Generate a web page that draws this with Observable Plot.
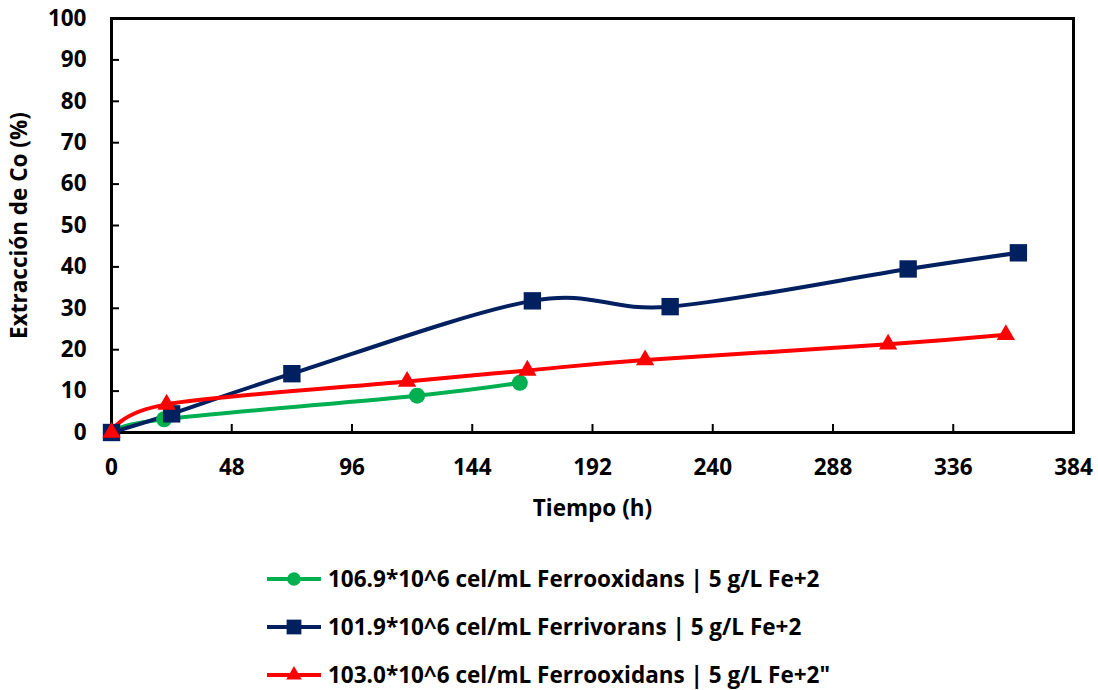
<!DOCTYPE html>
<html>
<head>
<meta charset="utf-8">
<script src="https://cdn.jsdelivr.net/npm/d3@7"></script>
<script src="https://cdn.jsdelivr.net/npm/@observablehq/plot@0.6"></script>
<style>
  html, body { margin: 0; padding: 0; background: #fff; }
  body { width: 1098px; height: 690px; overflow: hidden; font-family: "Open Sans", Lato, sans-serif; font-weight: bold; }
  #legend { padding-top: 25px; padding-left: 267px; }
  .row { display: flex; align-items: center; height: 48px; font-size: 22.5px; line-height: 1; color: #000; }
  .row svg { margin-right: 5px; }
</style>
</head>
<body>
<div id="chart"></div>
<div id="legend"></div>
<script>
// Cobalt extraction (%) over time (h) for three bioleaching cultures
const seriesNames = [
  "106.9*10^6 cel/mL Ferrooxidans | 5 g/L Fe+2",
  "101.9*10^6 cel/mL Ferrivorans | 5 g/L Fe+2",
  "103.0*10^6 cel/mL Ferrooxidans | 5 g/L Fe+2\""
];
const seriesColors = ["#00B050", "#002060", "#FF0000"];
const seriesSymbols = ["circle", "square", "triangle"];

const ferrooxidans106Hours = [0, 21, 122, 163];
const ferrooxidans106Values = [0, 3.2, 8.9, 12.0];

const ferrivorans101Hours = [0, 24, 72, 168, 223, 318, 362];
const ferrivorans101Values = [0, 4.5, 14.2, 31.8, 30.4, 39.5, 43.4];

const ferrooxidans103Hours = [0, 22, 118, 166, 213, 310, 357];
const ferrooxidans103Values = [0, 6.8, 12.3, 15.0, 17.5, 21.3, 23.6];

const xTicks = [0, 48, 96, 144, 192, 240, 288, 336, 384];
const yTicks = [0, 10, 20, 30, 40, 50, 60, 70, 80, 90, 100];

const hoursBySeries = [ferrooxidans106Hours, ferrivorans101Hours, ferrooxidans103Hours];
const valuesBySeries = [ferrooxidans106Values, ferrivorans101Values, ferrooxidans103Values];

const rows = seriesNames.flatMap((name, i) =>
  hoursBySeries[i].map((t, j) => ({series: name, t, v: valuesBySeries[i][j]}))
);

const W = 1098, H = 530;
const mL = 111, mR = 25, mT = 18, mB = 98;
const innerW = W - mL - mR, innerH = H - mT - mB;
const tickLen = 8;

const markSizes = {circle: 8, square: 9.8, triangle: 6.8};

const chart = Plot.plot({
  width: W,
  height: H,
  marginLeft: mL,
  marginRight: mR,
  marginTop: mT,
  marginBottom: mB,
  style: {fontFamily: "'Open Sans', Lato, sans-serif", fontWeight: "bold", fontSize: "22.5px", color: "#000", background: "#fff"},
  x: {domain: [0, 384], ticks: xTicks},
  y: {domain: [0, 100], ticks: yTicks},
  color: {domain: seriesNames, range: seriesColors},
  symbol: {domain: seriesNames, range: seriesSymbols},
  marks: [
    // inward tick marks along the left and bottom edges
    Plot.gridY(yTicks, {stroke: "#000", strokeOpacity: 1, strokeWidth: 2, insetRight: innerW - tickLen}),
    Plot.gridX(xTicks, {stroke: "#000", strokeOpacity: 1, strokeWidth: 2, insetTop: innerH - tickLen}),
    Plot.frame({stroke: "#000", strokeWidth: 3}),
    Plot.axisY(yTicks, {tickSize: 0, tickPadding: 25, label: "Extracción de Co (%)", labelAnchor: "center", labelArrow: "none", labelOffset: 100}),
    Plot.axisX(xTicks, {tickSize: 0, tickPadding: 27, label: "Tiempo (h)", labelAnchor: "center", labelArrow: "none", labelOffset: 83}),
    Plot.line(rows, {x: "t", y: "v", z: "series", stroke: "series", strokeWidth: 4, curve: "cardinal"}),
    ...seriesNames.map((name, i) =>
      Plot.dot(rows.filter(d => d.series === name), {
        x: "t", y: "v", fill: seriesColors[i], symbol: () => seriesSymbols[i], r: markSizes[seriesSymbols[i]]
      })
    )
  ]
});
document.getElementById("chart").append(chart);

// Legend below the plot: line swatch with its marker, then the series name
const legend = d3.select("#legend");
const d3Symbols = {circle: d3.symbolCircle, square: d3.symbolSquare, triangle: d3.symbolTriangle};
seriesNames.forEach((name, i) => {
  const row = legend.append("div").attr("class", "row");
  const sw = row.append("svg").attr("width", 56).attr("height", 24);
  sw.append("line").attr("x1", 0).attr("x2", 54).attr("y1", 12).attr("y2", 12)
    .attr("stroke", seriesColors[i]).attr("stroke-width", 4);
  const r = markSizes[seriesSymbols[i]] * 0.85;
  sw.append("path").attr("transform", "translate(27,12)")
    .attr("d", d3.symbol(d3Symbols[seriesSymbols[i]], Math.PI * r * r)())
    .attr("fill", seriesColors[i]);
  row.append("span").text(name);
});
</script>
</body>
</html>
